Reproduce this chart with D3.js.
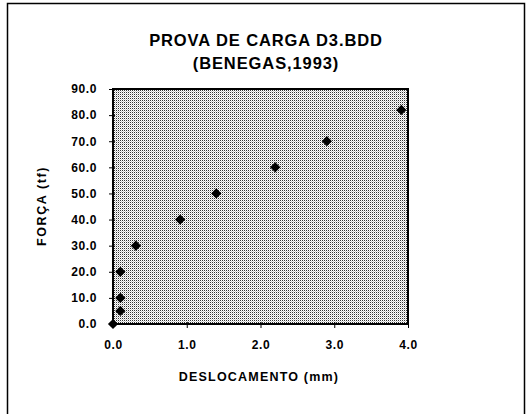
<!DOCTYPE html>
<html>
<head>
<meta charset="utf-8">
<script src="https://cdn.jsdelivr.net/npm/d3@7"></script>
<style>
  body { margin: 0; background: #fff; }
  text { font-family: "Liberation Sans", Arial, sans-serif; font-weight: bold; fill: #000; }
</style>
</head>
<body>
<svg id="chart"></svg>
<script>
// data
var deslocamento = [0.0, 0.10, 0.10, 0.10, 0.31, 0.91, 1.40, 2.20, 2.90, 3.91];
var forca = [0.0, 5.0, 10.0, 20.0, 30.0, 40.0, 50.0, 60.0, 70.0, 82.0];
var xTicks = [0, 1, 2, 3, 4];
var yTicks = [0, 10, 20, 30, 40, 50, 60, 70, 80, 90];
var titleLines = ["PROVA DE CARGA D3.BDD", "(BENEGAS,1993)"];

var svg_width = 527,
    svg_height = 414;
var plot = {left: 113, top: 89, right: 408, bottom: 324};

var svg = d3.select("#chart")
    .attr("width", svg_width)
    .attr("height", svg_height);

// outer frame (bottom edge runs off the page)
svg.append("path")
    .attr("d", "M7.5,420 V3.5 H524.5 V420")
    .attr("fill", "none")
    .attr("stroke", "#000")
    .attr("stroke-width", 1.5);

// stipple pattern for plot area
var defs = svg.append("defs");
var pat = defs.append("pattern")
    .attr("id", "stipple")
    .attr("patternUnits", "userSpaceOnUse")
    .attr("width", 2)
    .attr("height", 2);
pat.append("rect").attr("width", 2).attr("height", 2).attr("fill", "#fff");
pat.append("rect").attr("x", 0).attr("y", 0).attr("width", 1).attr("height", 1).attr("fill", "#333");
pat.append("rect").attr("x", 1).attr("y", 1).attr("width", 1).attr("height", 1).attr("fill", "#c8c8c8");

var x = d3.scaleLinear().domain([0, 4]).range([plot.left, plot.right]);
var y = d3.scaleLinear().domain([0, 90]).range([plot.bottom, plot.top]);

svg.append("rect")
    .attr("x", plot.left)
    .attr("y", plot.top)
    .attr("width", plot.right - plot.left)
    .attr("height", plot.bottom - plot.top)
    .attr("fill", "url(#stipple)")
    .attr("stroke", "#000")
    .attr("stroke-width", 2);

// Y axis
var yAxis = svg.append("g")
    .attr("transform", "translate(" + plot.left + ",0)")
    .call(d3.axisLeft(y).tickValues(yTicks).tickFormat(d3.format(".1f")).tickSizeInner(4).tickSizeOuter(0).tickPadding(12));
yAxis.select(".domain").remove();
yAxis.selectAll("line").attr("stroke", "#000").attr("x2", 2).attr("x1", -4);
yAxis.selectAll("text").style("font-size", "12px").style("letter-spacing", "0.6px");

// X axis
var xAxis = svg.append("g")
    .attr("transform", "translate(0," + plot.bottom + ")")
    .call(d3.axisBottom(x).tickValues(xTicks).tickFormat(d3.format(".1f")).tickSizeInner(4).tickSizeOuter(0).tickPadding(12));
xAxis.select(".domain").remove();
xAxis.selectAll("line").attr("stroke", "#000").attr("y1", -2).attr("y2", 4);
xAxis.selectAll("text").style("font-size", "12px").style("letter-spacing", "0.6px");

// Title
svg.selectAll(".title")
    .data(titleLines)
    .enter()
    .append("text")
    .attr("class", "title")
    .attr("x", 266)
    .attr("y", (d, i) => 46 + i * 23)
    .attr("text-anchor", "middle")
    .style("font-size", "16.5px")
    .style("letter-spacing", "0.9px")
    .text(d => d);

// axis labels
svg.append("text")
    .text("DESLOCAMENTO (mm)")
    .attr("x", 259)
    .attr("y", 381)
    .attr("text-anchor", "middle")
    .style("font-size", "12.5px")
    .style("letter-spacing", "1.2px");

svg.append("text")
    .text("FORÇA (tf)")
    .attr("transform", "translate(46,206) rotate(-90)")
    .attr("text-anchor", "middle")
    .style("font-size", "12.5px")
    .style("letter-spacing", "1.6px");

// points
var diamond = d3.symbol().type(d3.symbolSquare).size(52);
svg.append("g")
    .selectAll("path")
    .data(deslocamento)
    .enter()
    .append("path")
    .attr("d", diamond)
    .attr("transform", (d, i) => "translate(" + x(d) + "," + y(forca[i]) + ") rotate(45)")
    .attr("fill", "#000");
</script>
</body>
</html>
